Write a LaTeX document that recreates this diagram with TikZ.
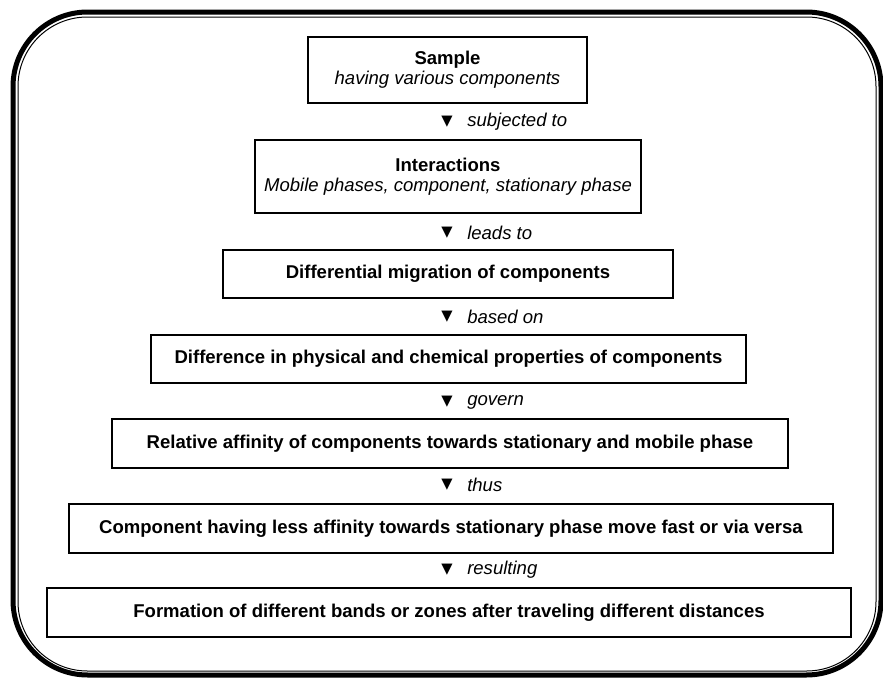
\documentclass[tikz,border=0pt]{standalone}
\usepackage{fontspec}
\setmainfont{Liberation Sans}
\newfontfamily\symfont{DejaVu Sans}
\begin{document}
\begin{tikzpicture}[x=0.75pt,y=-0.75pt,
		caixa/.style={draw, line width=1pt, align=center, inner sep=0pt,
			font=\fontsize{13.9}{15}\selectfont},
		seta/.style={inner sep=0pt, font=\symfont\fontsize{11}{11}\selectfont},
		rotulo/.style={anchor=west, inner sep=0pt, font=\fontsize{13.9}{15}\selectfont\itshape}]
		\useasboundingbox (0,0) rectangle (883,678);
		\draw[line width=3.75pt, rounded corners=56pt] (13,12) rectangle (881,675);		% Moldura
		\draw[line width=0.75pt, rounded corners=52pt] (18,17) rectangle (876,671);		% Moldura interna
		
		% Caixas
		\node[caixa, minimum width=209.25pt, minimum height=49.5pt]  (b1) at (447.5,70)  {\textbf{Sample}\\ \textit{having various components}};
		\node[caixa, minimum width=289.5pt, minimum height=54.75pt]  (b2) at (448,176.5) {\textbf{Interactions}\\ \textit{Mobile phases, component, stationary phase}};
		\node[caixa, minimum width=337.5pt, minimum height=36pt]     (b3) at (448,274)   {\textbf{Differential migration of components}};
		\node[caixa, minimum width=446.25pt, minimum height=36pt]    (b4) at (448.5,359) {\textbf{Difference in physical and chemical properties of components}};
		\node[caixa, minimum width=507pt, minimum height=36.75pt]    (b5) at (450,443.5) {\textbf{Relative affinity of components towards stationary and mobile phase}};
		\node[caixa, minimum width=573pt, minimum height=36.75pt]    (b6) at (451,528.5) {\textbf{Component having less affinity towards stationary phase move fast or via versa}};
		\node[caixa, minimum width=603pt, minimum height=36.75pt]    (b7) at (449,612.5) {\textbf{Formation of different bands or zones after traveling different distances}};
		
		% Setas
		\node[seta] (t1) at (447,122) {▼};
		\node[rotulo] (r1) at (467,122) {subjected to};
		\node[seta] (t2) at (447,233) {▼};
		\node[rotulo] (r2) at (467,233) {leads to};
		\node[seta] (t3) at (447,317) {▼};
		\node[rotulo] (r3) at (467,317) {based on};
		\node[seta] (t4) at (447,402) {▼};
		\node[rotulo] (r4) at (467,402) {govern};
		\node[seta] (t5) at (447,485) {▼};
		\node[rotulo] (r5) at (467,485) {thus};
		\node[seta] (t6) at (447,570) {▼};
		\node[rotulo] (r6) at (467,570) {resulting};
	\end{tikzpicture}
\end{document}
